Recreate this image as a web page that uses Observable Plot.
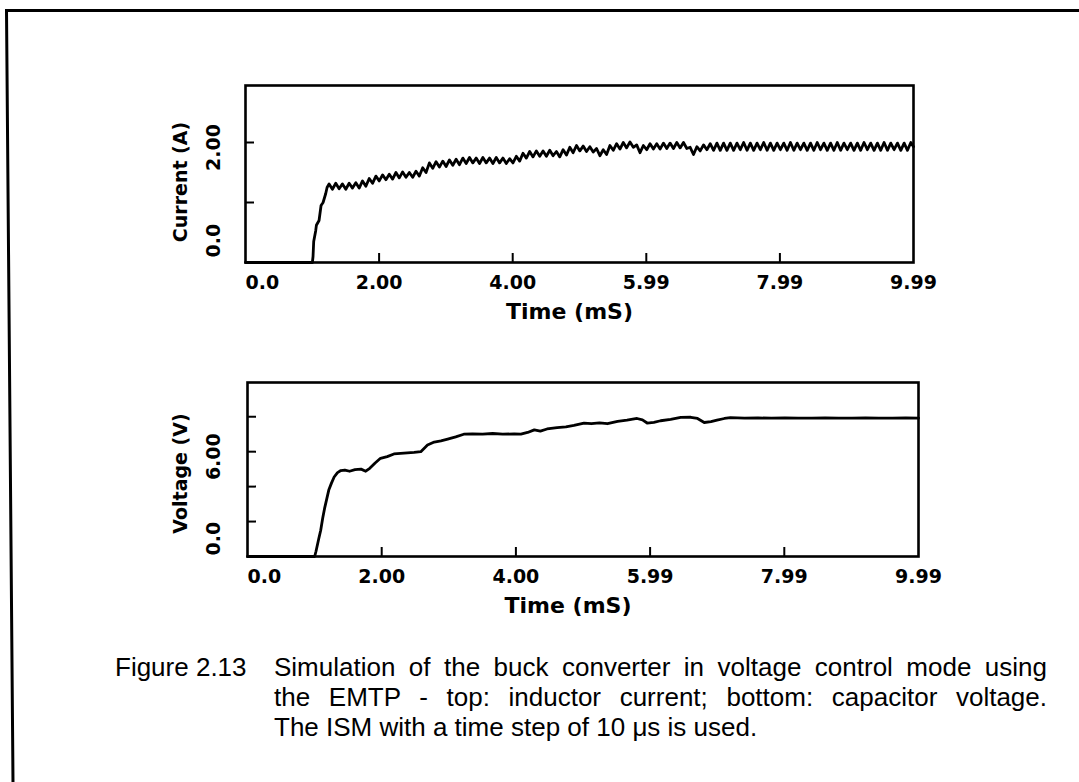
<!DOCTYPE html>
<html><head><meta charset="utf-8">
<script src="https://cdn.jsdelivr.net/npm/d3@7"></script>
<script src="https://cdn.jsdelivr.net/npm/@observablehq/plot@0.6"></script>
<style>
html,body{margin:0;padding:0;background:#fff;}
body{width:1079px;height:782px;position:relative;overflow:hidden;}
#border{position:absolute;left:0;top:0;}
#top,#bottom{position:absolute;left:0;}
#top{top:0px;} #bottom{top:330px;}
.cap{position:absolute;font-family:"Liberation Sans",Arial,sans-serif;font-size:26px;color:#000;line-height:30px;white-space:nowrap;}
.j{text-align:justify;text-align-last:justify;}
</style></head><body>
<svg id="border" width="1079" height="782"><path d="M1079,10.5 L6.5,10.5 L13,782" fill="none" stroke="#000" stroke-width="3"/></svg>
<div id="top"></div>
<div id="bottom"></div>
<div class="cap" style="left:115px;top:652px">Figure 2.13</div>
<div class="cap" style="left:274px;top:652px;width:773px">
  <div class="j">Simulation of the buck converter in voltage control mode using</div>
  <div class="j">the EMTP - top: inductor current; bottom: capacitor voltage.</div>
  <div>The ISM with a time step of 10 μs is used.</div>
</div>
<script>
// ---- axis ticks & labels ----
const timeTickValues = [0, 1.998, 3.996, 5.994, 7.992, 9.99];
const timeTickLabels = ["0.0", "2.00", "4.00", "5.99", "7.99", "9.99"];
const currentTickValues = [1, 2];
const currentLabelValues = [0, 2];
const currentLabelTexts = ["0.0", "2.00"];
const voltageTickValues = [2, 4, 6, 8];
const voltageLabelValues = [0, 6];
const voltageLabelTexts = ["0.0", "6.00"];

// ---- inductor current (A) ----
const currentRiseTime  = [0, 1.00, 1.01, 1.02, 1.05, 1.06, 1.10, 1.13, 1.16, 1.20, 1.22];
const currentRiseValue = [0, 0,    0.10, 0.35, 0.53, 0.62, 0.70, 0.95, 1.00, 1.15, 1.25];
// switching ripple, peaks and troughs every 0.05 ms from 1.25 ms
const currentRippleStart = 1.25;
const currentRippleStep = 0.05;
const currentRippleValue = [
  1.31,1.22,1.32,1.23,1.31,1.22,1.32,1.24,1.33,1.24,
  1.36,1.27,1.40,1.32,1.44,1.36,1.46,1.38,1.47,1.39,
  1.50,1.41,1.51,1.42,1.50,1.42,1.52,1.44,1.58,1.50,
  1.66,1.57,1.68,1.59,1.69,1.60,1.71,1.62,1.72,1.63,
  1.74,1.65,1.75,1.66,1.74,1.65,1.75,1.66,1.74,1.65,
  1.75,1.66,1.74,1.65,1.73,1.66,1.77,1.69,1.82,1.74,
  1.85,1.76,1.86,1.77,1.86,1.77,1.87,1.78,1.85,1.76,
  1.88,1.79,1.92,1.83,1.95,1.86,1.94,1.85,1.93,1.84,
  1.90,1.78,1.88,1.80,1.95,1.87,1.98,1.89,2.00,1.91,
  2.01,1.92,1.96,1.83,1.95,1.88,1.98,1.89,1.98,1.89,
  1.99,1.90,1.99,1.90,2.00,1.91,2.00,1.90,1.92,1.80,
  1.93,1.86,1.96,1.88,1.98,1.87,1.99,1.87,1.99,1.87,
  1.99,1.87,1.99,1.88,2.00,1.87,1.99,1.87,1.99,1.88,
  2.00,1.87,1.99,1.87,1.99,1.88,1.99,1.87,2.00,1.87,
  1.99,1.88,1.99,1.87,1.99,1.87,2.00,1.88,1.99,1.87,
  1.99,1.87,2.00,1.87,1.99,1.88,1.99,1.87,1.99,1.87,
  2.00,1.88,1.99,1.87,1.99,1.87,2.00,1.87,1.99,1.88,
  1.99,1.87,1.99,1.87,2.00
];
const currentEndTime = 9.99;
const currentEndValue = 1.93;

// ---- capacitor voltage (V) ----
const voltageTime = [0, 1.00, 1.02, 1.06, 1.09, 1.12, 1.15, 1.18, 1.21, 1.25, 1.29, 1.34, 1.39, 1.45, 1.52, 1.60, 1.69, 1.76, 1.82, 1.90,
  1.98, 2.08, 2.18, 2.28, 2.38, 2.48, 2.58, 2.68, 2.78, 2.88, 2.98, 3.10, 3.22, 3.35, 3.50, 3.65, 3.80, 3.97, 4.07, 4.17,
  4.27, 4.36, 4.46, 4.61, 4.74, 4.86, 5.01, 5.12, 5.24, 5.36, 5.51, 5.65, 5.80, 5.88, 5.95, 6.05, 6.15, 6.30, 6.45, 6.60,
  6.70, 6.80, 6.90, 6.99, 7.10, 7.19, 7.40, 7.60, 7.80, 8.00, 8.20, 8.40, 8.60, 8.80, 9.00, 9.20, 9.40, 9.60, 9.80, 9.99];
const voltageValue = [0, 0, 0.3, 1.0, 1.5, 2.2, 2.8, 3.3, 3.8, 4.2, 4.55, 4.8, 4.92, 4.95, 4.88, 4.97, 5.0, 4.88, 5.05, 5.35,
  5.62, 5.72, 5.87, 5.9, 5.93, 5.96, 6.0, 6.38, 6.55, 6.62, 6.72, 6.85, 7.0, 7.02, 7.0, 7.04, 7.0, 7.02, 7.0, 7.1,
  7.25, 7.18, 7.3, 7.38, 7.42, 7.5, 7.64, 7.6, 7.65, 7.6, 7.73, 7.8, 7.9, 7.82, 7.64, 7.68, 7.77, 7.85, 7.96, 7.97,
  7.9, 7.67, 7.72, 7.8, 7.9, 7.95, 7.92, 7.93, 7.92, 7.93, 7.92, 7.92, 7.93, 7.92, 7.92, 7.93, 7.92, 7.92, 7.93, 7.92];

// ---- build tables ----
const currentData = currentRiseTime.map((t, i) => ({t, v: currentRiseValue[i]}))
  .concat(currentRippleValue.map((v, i) => ({t: currentRippleStart + i * currentRippleStep, v})))
  .concat([{t: currentEndTime, v: currentEndValue}]);
const voltageData = voltageTime.map((t, i) => ({t, v: voltageValue[i]}));

const FONT = "DejaVu Sans";

function panel({data, yDomain, yTicks, yLabelValues, yLabelTexts, yTitle, m, H, yTitleDx, yTitleDy, yLabDx, yLabDy, xTitleDx}) {
  const W = 1079;
  const fw = W - m.l - m.r, fh = H - m.t - m.b;
  const inner = timeTickValues.slice(1, -1);
  const txt = {fontFamily: FONT, fontWeight: "bold", fill: "#000", lineAnchor: "middle"};
  return Plot.plot({
    width: W, height: H,
    marginLeft: m.l, marginRight: m.r, marginTop: m.t, marginBottom: m.b,
    x: {domain: [0, 9.99], axis: null},
    y: {domain: yDomain, axis: null},
    style: {background: "transparent", color: "#000", overflow: "visible"},
    marks: [
      Plot.line(data, {x: "t", y: "v", stroke: "#000", strokeWidth: 2.8, strokeLinejoin: "round", strokeLinecap: "round"}),
      Plot.tickX(inner, {x: d => d, insetTop: fh - 9, stroke: "#000", strokeWidth: 2}),
      Plot.tickY(yTicks, {y: d => d, insetRight: fw - 9, stroke: "#000", strokeWidth: 2}),
      Plot.frame({stroke: "#000", strokeWidth: 2.6}),
      // x tick labels
      Plot.text([0], {x: d => d, frameAnchor: "bottom", dy: 20, text: () => timeTickLabels[0], textAnchor: "start", fontSize: 19, ...txt}),
      Plot.text(timeTickValues.slice(1), {x: d => d, frameAnchor: "bottom", dy: 20, text: (d, i) => timeTickLabels[i + 1],
        textAnchor: "middle", fontSize: 19, ...txt}),
      // x title
      Plot.text(["Time (mS)"], {frameAnchor: "bottom", dy: 49, dx: xTitleDx, text: d => d, textAnchor: "middle", fontSize: 22, ...txt}),
      // y tick labels (rotated)
      Plot.text([yLabelValues[0]], {y: d => d, frameAnchor: "left", dx: yLabDx, dy: yLabDy[0], rotate: -90, textAnchor: "start",
        text: () => yLabelTexts[0], fontSize: 19, ...txt}),
      Plot.text([yLabelValues[1]], {y: d => d, frameAnchor: "left", dx: yLabDx, dy: yLabDy[1], rotate: -90, textAnchor: "middle",
        text: () => yLabelTexts[1], fontSize: 19, ...txt}),
      // y title
      Plot.text([yTitle], {frameAnchor: "left", dx: yTitleDx, dy: yTitleDy, rotate: -90, textAnchor: "middle", text: d => d,
        fontSize: 19, ...txt})
    ]
  });
}

document.getElementById("top").append(panel({
  data: currentData, yDomain: [0, 2.95], yTicks: currentTickValues,
  yLabelValues: currentLabelValues, yLabelTexts: currentLabelTexts, yTitle: "Current (A)",
  m: {l: 245, r: 166, t: 85, b: 68}, H: 330,
  yTitleDx: -65, yTitleDy: 8, yLabDx: -32, yLabDy: [-5, 5], xTitleDx: -10
}));
document.getElementById("bottom").append(panel({
  data: voltageData, yDomain: [0, 9.96], yTicks: voltageTickValues,
  yLabelValues: voltageLabelValues, yLabelTexts: voltageLabelTexts, yTitle: "Voltage (V)",
  m: {l: 247, r: 161, t: 52, b: 74}, H: 300,
  yTitleDx: -67, yTitleDy: 4, yLabDx: -34, yLabDy: [-1, 5], xTitleDx: -15
}));
</script>
</body></html>
